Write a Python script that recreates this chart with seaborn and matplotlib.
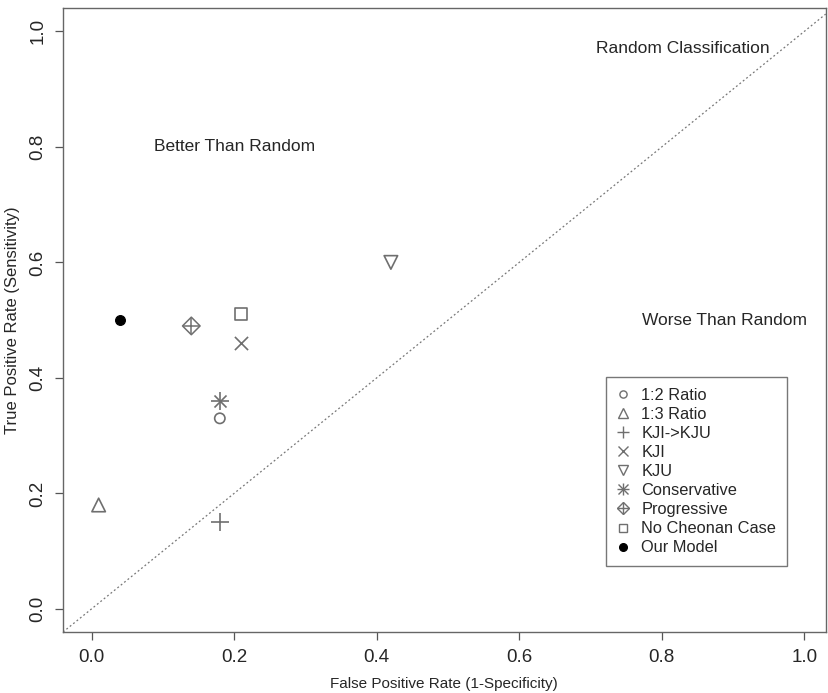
import matplotlib
matplotlib.use("Agg")
import matplotlib.pyplot as plt
from matplotlib.lines import Line2D
from matplotlib.legend_handler import HandlerTuple
import seaborn as sns
import numpy as np
import pandas as pd

# data
models = ['1:2 Ratio', '1:3 Ratio', 'KJI->KJU', 'KJI', 'KJU',
          'Conservative', 'Progressive', 'No Cheonan Case', 'Our Model']
fpr = [0.18, 0.01, 0.18, 0.21, 0.42, 0.18, 0.14, 0.21, 0.04]
tpr = [0.33, 0.18, 0.15, 0.46, 0.60, 0.36, 0.49, 0.51, 0.50]

sns.set_style("white")
plt.rcParams['font.family'] = ['Liberation Sans', 'DejaVu Sans']

grey = '#6f6f6f'
# marker, size, filled for each model (R pch style)
styles = {
    '1:2 Ratio': ('o', 55, False),
    '1:3 Ratio': ('^', 95, False),
    'KJI->KJU': ('+', 150, True),
    'KJI': ('x', 90, True),
    'KJU': ('v', 95, False),
    'Conservative': ('asterisk', 150, True),
    'Progressive': ('dplus', 80, False),
    'No Cheonan Case': ('s', 75, False),
    'Our Model': ('o', 50, True),
}

df = pd.DataFrame({'model': models, 'fpr': fpr, 'tpr': tpr})

fig = plt.figure(figsize=(8.29, 6.93), dpi=100)
ax = fig.add_axes([0.076, 0.088, 0.92, 0.9])

# random classification diagonal
ax.axline((0, 0), (1, 1), color='#777777', linestyle=(0, (1.5, 2)), linewidth=0.9, zorder=1)

handles = []
for name in models:
    sub = df[df['model'] == name]
    m, s, filled = styles[name]
    if name == 'Our Model':
        sns.scatterplot(data=sub, x='fpr', y='tpr', marker='o', s=s, color='black',
                        edgecolor='black', linewidth=0.8, ax=ax, legend=False, zorder=3)
        handles.append(Line2D([], [], marker='o', color='black', linestyle='', markersize=5.5))
    elif m == 'asterisk':
        sns.scatterplot(data=sub, x='fpr', y='tpr', marker='+', s=s, color=grey,
                        linewidth=1.2, ax=ax, legend=False, zorder=3)
        sns.scatterplot(data=sub, x='fpr', y='tpr', marker='x', s=s * 0.5, color=grey,
                        linewidth=1.2, ax=ax, legend=False, zorder=3)
        handles.append((Line2D([], [], marker='+', color=grey, linestyle='', markersize=9, markeredgewidth=1.0),
                        Line2D([], [], marker='x', color=grey, linestyle='', markersize=6.5, markeredgewidth=1.0)))
    elif m == 'dplus':
        sns.scatterplot(data=sub, x='fpr', y='tpr', marker='D', s=s, facecolor='none',
                        edgecolor=grey, linewidth=1.1, ax=ax, legend=False, zorder=3)
        sns.scatterplot(data=sub, x='fpr', y='tpr', marker='+', s=s * 1.5, color=grey,
                        linewidth=1.1, ax=ax, legend=False, zorder=3)
        handles.append((Line2D([], [], marker='D', markerfacecolor='none', markeredgecolor=grey,
                               linestyle='', markersize=6),
                        Line2D([], [], marker='+', color=grey, linestyle='', markersize=8.5)))
    elif filled:
        sns.scatterplot(data=sub, x='fpr', y='tpr', marker=m, s=s, color=grey,
                        linewidth=1.2, ax=ax, legend=False, zorder=3)
        handles.append(Line2D([], [], marker=m, color=grey, linestyle='',
                              markersize=np.sqrt(s) * 0.75, markeredgewidth=1.0))
    else:
        sns.scatterplot(data=sub, x='fpr', y='tpr', marker=m, s=s, facecolor='none',
                        edgecolor=grey, linewidth=1.2, ax=ax, legend=False, zorder=3)
        handles.append(Line2D([], [], marker=m, markerfacecolor='none', markeredgecolor=grey,
                              linestyle='', markersize=np.sqrt(s) * 0.7))

ax.set_xlim(-0.04, 1.03)
ax.set_ylim(-0.04, 1.04)
ax.set_xticks([0.0, 0.2, 0.4, 0.6, 0.8, 1.0])
ax.set_yticks([0.0, 0.2, 0.4, 0.6, 0.8, 1.0])
ax.set_xticklabels(['0.0', '0.2', '0.4', '0.6', '0.8', '1.0'], fontsize=13.5)
ax.set_yticklabels(['0.0', '0.2', '0.4', '0.6', '0.8', '1.0'], fontsize=13.5,
                   rotation=90, va='center')
ax.tick_params(axis='both', length=6, width=0.9, color='#555555', direction='out',
               bottom=True, left=True, pad=6)
ax.set_xlabel('False Positive Rate (1-Specificity)', fontsize=11, labelpad=8)
ax.set_ylabel('True Positive Rate (Sensitivity)', fontsize=12, labelpad=7)
for sp in ax.spines.values():
    sp.set_color('#666666')
    sp.set_linewidth(1.0)

ax.text(0.83, 0.97, 'Random Classification', ha='center', va='center', fontsize=12.5)
ax.text(0.20, 0.80, 'Better Than Random', ha='center', va='center', fontsize=12.5)
ax.text(0.888, 0.50, 'Worse Than Random', ha='center', va='center', fontsize=12.5)

leg = ax.legend(handles, models, loc='upper left', bbox_to_anchor=(0.731, 0.456),
                bbox_transform=fig.transFigure,
                fontsize=11.8, frameon=True, fancybox=False, handlelength=0.8,
                handletextpad=0.7, labelspacing=0.25, borderpad=0.65, borderaxespad=0,
                handler_map={tuple: HandlerTuple(ndivide=1, pad=0)})
leg.get_frame().set_edgecolor('#555555')
leg.get_frame().set_linewidth(1.0)

fig.savefig('out.png', dpi=100)
